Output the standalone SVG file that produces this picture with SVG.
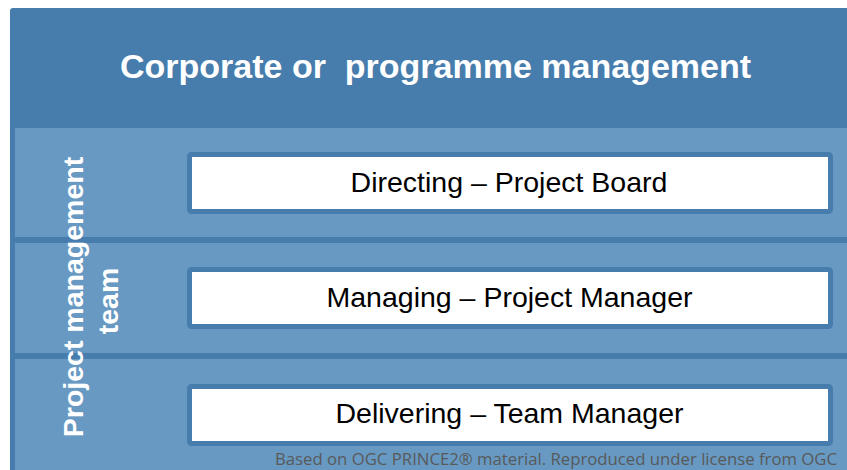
<svg xmlns="http://www.w3.org/2000/svg" width="847" height="470" viewBox="0 0 847 470">
<style>
.dark{fill:#467dad}
.light{fill:#6799c3}
.box{fill:#ffffff;stroke:#467dad;stroke-width:5}
.lbl{font-family:"Liberation Sans",Arial,sans-serif;font-size:28.5px;fill:#000000;text-anchor:middle}
.white{font-family:"Liberation Sans",Arial,sans-serif;font-weight:bold;fill:#ffffff}
.foot{font-family:"Open Sans","Noto Sans",sans-serif;font-size:16px;fill:#595959}
</style>
<rect x="0" y="0" width="847" height="470" fill="#ffffff"/>
<g id="background">
<rect class="dark" x="10" y="8" width="850" height="470" rx="3"/>
<rect class="light" x="15" y="128" width="840" height="109"/>
<rect class="light" x="15" y="243" width="840" height="110"/>
<rect class="light" x="15" y="359" width="840" height="115"/>
</g>
<g id="header">
<text class="white" x="120" y="78" font-size="34" xml:space="preserve" style="white-space:pre">Corporate or  programme management</text>
</g>
<g id="team-label">
<text class="white" font-size="28.5" text-anchor="middle" transform="translate(83,297) rotate(-90)">Project management</text>
<text class="white" font-size="28.5" text-anchor="middle" transform="translate(118,301) rotate(-90)">team</text>
</g>
<g id="directing">
<rect class="box" x="189.5" y="154.5" width="641" height="57" rx="2"/>
<text class="lbl" x="509" y="191.5">Directing – Project Board</text>
</g>
<g id="managing">
<rect class="box" x="189.5" y="269.5" width="641" height="57" rx="2"/>
<text class="lbl" x="509.5" y="306.5">Managing – Project Manager</text>
</g>
<g id="delivering">
<rect class="box" x="189.5" y="386.5" width="641" height="57" rx="2"/>
<text class="lbl" x="509.5" y="423">Delivering – Team Manager</text>
</g>
<g id="footer">
<text class="foot" x="275" y="465" textLength="562" lengthAdjust="spacingAndGlyphs">Based on OGC PRINCE2® material. Reproduced under license from OGC</text>
</g>
</svg>
